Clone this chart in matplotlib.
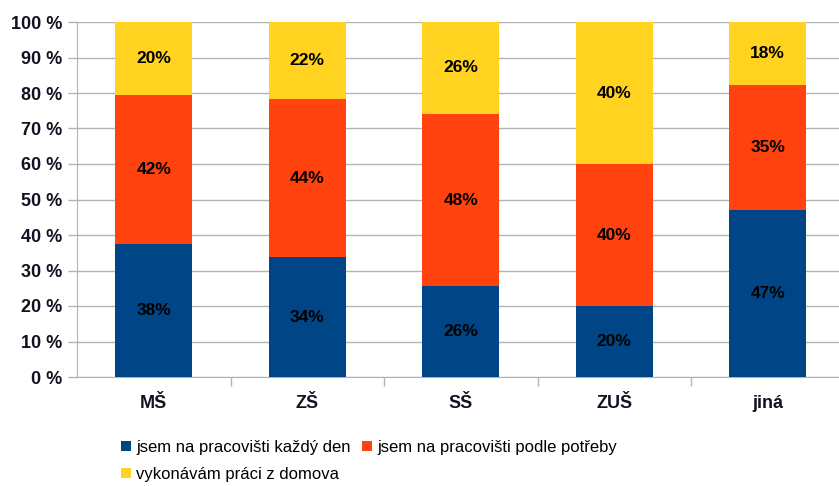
import numpy as np
import matplotlib.pyplot as plt

plt.rcParams['font.family'] = ['Liberation Sans', 'DejaVu Sans']

categories = ['MŠ', 'ZŠ', 'SŠ', 'ZUŠ', 'jiná']
series = ['jsem na pracovišti každý den', 'jsem na pracovišti podle potřeby',
          'vykonávám práci z domova']
daily = [37.5, 33.8, 25.6, 20.0, 47.0]
needed = [42.0, 44.5, 48.5, 40.0, 35.3]
home = [20.5, 21.7, 25.9, 40.0, 17.7]
labels_daily = ['38%', '34%', '26%', '20%', '47%']
labels_needed = ['42%', '44%', '48%', '40%', '35%']
labels_home = ['20%', '22%', '26%', '40%', '18%']
colors = ['#004586', '#ff420e', '#ffd320']

fig = plt.figure(figsize=(8.39, 4.86), dpi=100)
ax = fig.add_axes([77 / 839, 1 - 377 / 486, 767.5 / 839, 355 / 486])

x = np.arange(len(categories))
bottom = np.zeros(len(categories))
handles = []
for vals, labs, col, name in zip([daily, needed, home],
                                 [labels_daily, labels_needed, labels_home],
                                 colors, series):
    bars = ax.bar(x, vals, width=0.5, bottom=bottom, color=col, label=name, zorder=3)
    handles.append(bars)
    for xi, b, v, t in zip(x, bottom, vals, labs):
        ax.text(xi, b + v / 2, t, ha='center', va='center', fontsize=12.5,
                fontweight='bold', color='black', zorder=4)
    bottom = bottom + np.array(vals)

ax.set_xlim(-0.5, len(categories) - 0.5)
ax.set_ylim(0, 100)
ax.set_yticks(range(0, 101, 10))
ax.set_yticklabels(['%d %%' % v for v in range(0, 101, 10)], fontsize=13,
                   fontweight='bold', color='#111122')
ax.set_xticks(x)
ax.set_xticklabels(categories, fontsize=13, fontweight='bold', color='#111122')
ax.tick_params(axis='x', length=0, pad=13)
ax.set_xticks(np.arange(0.5, len(categories) - 1, 1), minor=True)
ax.tick_params(axis='x', which='minor', length=6.5, color='#b3b3b3', width=1)
ax.tick_params(axis='y', length=6.5, color='#b3b3b3', width=1, pad=4)
ax.grid(axis='y', color='#b3b3b3', linewidth=1, zorder=0)
for s in ['top', 'right']:
    ax.spines[s].set_visible(False)
for s in ['left', 'bottom']:
    ax.spines[s].set_color('#b3b3b3')

order = [handles[0], handles[2], handles[1]]
fig.legend(order, [series[0], series[2], series[1]], ncol=2, loc='upper left',
           bbox_to_anchor=(121 / 839, 1 - 440 / 486), frameon=False, fontsize=12,
           handlelength=0.6, handleheight=0.6, handletextpad=0.3,
           columnspacing=0.7, labelspacing=0.72, borderpad=0, borderaxespad=0)

fig.savefig('out.png', dpi=100)
